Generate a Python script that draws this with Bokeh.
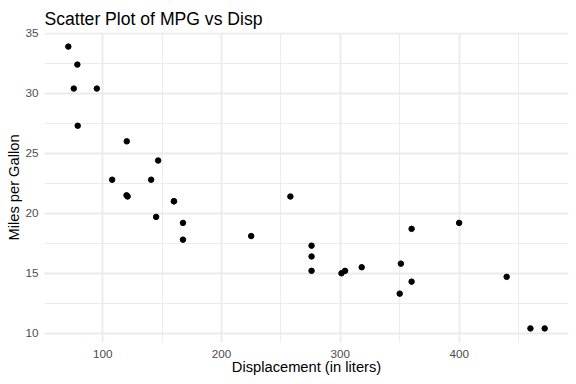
from bokeh.plotting import figure
from bokeh.models import Range1d, FixedTicker
from bokeh.embed import file_html
from bokeh.resources import INLINE

# mtcars: displacement and mpg
disp = [160, 160, 108, 258, 360, 225, 360, 146.7, 140.8, 167.6, 167.6, 275.8,
        275.8, 275.8, 472, 460, 440, 78.7, 75.7, 71.1, 120.1, 318, 304, 350,
        400, 79, 120.3, 95.1, 351, 145, 301, 121]
mpg = [21.0, 21.0, 22.8, 21.4, 18.7, 18.1, 14.3, 24.4, 22.8, 19.2, 17.8, 16.4,
       17.3, 15.2, 10.4, 10.4, 14.7, 32.4, 30.4, 33.9, 21.5, 15.5, 15.2, 13.3,
       19.2, 27.3, 26.0, 30.4, 15.8, 19.7, 15.0, 21.4]

x_ticks = [100, 200, 300, 400]
x_minor = [150, 250, 350, 450]
y_ticks = [10, 15, 20, 25, 30, 35]
y_minor = [12.5, 17.5, 22.5, 27.5, 32.5]

xpad = (max(disp) - min(disp)) * 0.05
ypad = (max(mpg) - min(mpg)) * 0.05

p = figure(width=576, height=384, output_backend="svg", toolbar_location=None,
           x_range=Range1d(min(disp) - xpad, max(disp) + xpad),
           y_range=Range1d(min(mpg) - ypad, max(mpg) + ypad),
           title="Scatter Plot of MPG vs Disp",
           x_axis_label="Displacement (in liters)",
           y_axis_label="Miles per Gallon",
           min_border_left=44, min_border_right=8, min_border_top=32,
           min_border_bottom=42)

p.outline_line_color = None
p.background_fill_color = "white"
p.border_fill_color = "white"

p.title.text_font = "Liberation Sans"
p.title.text_font_size = "17.6px"
p.title.text_font_style = "normal"
p.title.text_color = "black"
p.title.align = "left"
p.title.standoff = 8
p.title.offset = 0

p.xaxis.ticker = FixedTicker(ticks=x_ticks, minor_ticks=x_minor)
p.yaxis.ticker = FixedTicker(ticks=y_ticks, minor_ticks=y_minor)

for ax in (p.xaxis[0], p.yaxis[0]):
    ax.axis_line_color = None
    ax.major_tick_line_color = None
    ax.minor_tick_line_color = None
    ax.major_tick_out = 0
    ax.major_tick_in = 0
    ax.minor_tick_out = 0
    ax.minor_tick_in = 0
    ax.major_label_text_font = "Liberation Sans"
    ax.major_label_text_font_size = "11.7px"
    ax.major_label_text_color = "#4D4D4D"
    ax.axis_label_text_font = "Liberation Sans"
    ax.axis_label_text_font_size = "14.7px"
    ax.axis_label_text_font_style = "normal"
    ax.axis_label_text_color = "black"

p.xaxis.major_label_standoff = 7
p.xaxis.axis_label_standoff = -2
p.yaxis.major_label_standoff = 6
p.yaxis.axis_label_standoff = 0

for g in (p.xgrid[0], p.ygrid[0]):
    g.grid_line_color = "#EBEBEB"
    g.grid_line_width = 1.9
    g.minor_grid_line_color = "#EBEBEB"
    g.minor_grid_line_width = 0.95

p.scatter(disp, mpg, size=5.5, color="black")

open("out.html", "w").write(file_html(p, INLINE))
